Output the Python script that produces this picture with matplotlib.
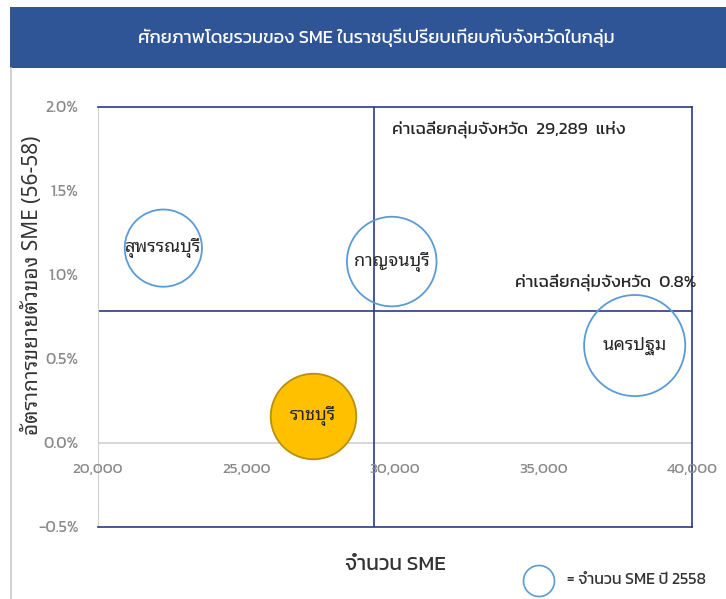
import matplotlib

matplotlib.use("Agg")
import matplotlib.pyplot as plt
from matplotlib import font_manager
from matplotlib.patches import Ellipse, Rectangle
from matplotlib.ticker import FuncFormatter

# SME potential: number of SMEs (2558) vs. growth rate 56-58, by province
provinces = ["สุพรรณบุรี", "กาญจนบุรี", "ราชบุรี", "นครปฐม"]
sme_count = [22200, 29890, 27250, 38070]
growth_pct = [1.16, 1.08, 0.16, 0.58]
highlight = "ราชบุรี"

avg_count = 29289
avg_growth = 0.785

x_ticks = [20000, 25000, 30000, 35000, 40000]
y_ticks = [-0.5, 0.0, 0.5, 1.0, 1.5, 2.0]

title = "ศักยภาพโดยรวมของ SME ในราชบุรีเปรียบเทียบกับจังหวัดในกลุ่ม"
xlabel = "จำนวน SME"
ylabel = "อัตราการขยายตัวของ SME (56-58)"
avg_count_label = "ค่าเฉลี่ยกลุ่มจังหวัด  29,289  แห่ง"
avg_growth_label = "ค่าเฉลี่ยกลุ่มจังหวัด  0.8%"
legend_label = "= จำนวน SME ปี 2558"


def pick(*names):
    have = {f.name for f in font_manager.fontManager.ttflist}
    for n in names:
        if n in have:
            return n
    return "DejaVu Sans"


loopless = [pick("Kanit", "Prompt", "Bai Jamjuree"), "DejaVu Sans"]
looped = [pick("Noto Sans Thai Looped", "Sarabun", "Noto Sans Thai", "Tahoma"), "DejaVu Sans"]

NAVY = "#2b3a86"
BANNER = "#2f5597"
BUBBLE = "#5b9bd5"
GREY = "#8a8a8a"
INK = "#262626"

fig = plt.figure(figsize=(7.26, 5.99), dpi=100)
W, H = 726, 599

# banner + card edge
fig.add_artist(Rectangle((10 / W, 1 - 68 / H), 1, 61 / H, transform=fig.transFigure,
                         facecolor=BANNER, edgecolor="none"))
fig.add_artist(plt.Line2D([11 / W, 11 / W], [0, 1 - 68 / H], transform=fig.transFigure,
                          color="#c8c8c8", lw=1.2))
fig.text(376 / W, 1 - 38 / H, title, color="white", fontsize=13.2,
         ha="center", va="center", family=loopless)

ax = fig.add_axes([98 / W, 1 - 527 / H, 594 / W, 420 / H])
ax.set_xlim(20000, 40000)
ax.set_ylim(-0.5, 2.0)

for sp in ["top", "right", "bottom"]:
    ax.spines[sp].set_color(NAVY)
    ax.spines[sp].set_linewidth(1.2)
ax.spines["left"].set_color("#d0d0d0")
ax.axhline(0, color="#d0d0d0", lw=1.2, zorder=0)

ax.axvline(avg_count, color=NAVY, lw=1.2, zorder=1)
ax.axhline(avg_growth, color=NAVY, lw=1.2, zorder=1)

# bubble area proportional to SME count
scale = 5300 / max(sme_count)
for name, cnt, g in zip(provinces, sme_count, growth_pct):
    if name == highlight:
        fc, ec = "#ffc000", "#b8900a"
    else:
        fc, ec = "none", BUBBLE
    ax.scatter(cnt, g, s=cnt * scale, facecolor=fc, edgecolor=ec, lw=1.3, zorder=3)
    ax.text(cnt, g, name, ha="center", va="center", fontsize=13,
            family=looped, color=INK, zorder=4)

ax.text(avg_count + 620, 1.86, avg_count_label, fontsize=12.5, family=loopless,
        color=INK, ha="left", va="center")
ax.text(40150, 0.95, avg_growth_label, fontsize=12.5, family=loopless,
        color=INK, ha="right", va="center")

ax.set_yticks(y_ticks)
ax.yaxis.set_major_formatter(FuncFormatter(lambda v, _: f"{v:.1f}%"))
ax.set_xticks([])
ax.tick_params(axis="y", length=0, pad=14, labelsize=11.5, labelcolor=GREY)
for t in ax.get_yticklabels():
    t.set_family(loopless)

# x tick labels sit on the zero line
for xv in x_ticks:
    ax.text(xv, -0.16, f"{xv:,}", ha="center", va="center", fontsize=11,
            color=GREY, family=loopless)

fig.text(32 / W, 1 - 285 / H, ylabel, rotation=90, ha="center", va="center",
         fontsize=15, family=looped, color="#333333")
fig.text(395 / W, 1 - 565 / H, xlabel, ha="center", va="center",
         fontsize=15, family=loopless, color="#333333")

# bubble legend
fig.add_artist(Ellipse((539 / W, 1 - 581 / H), 31 / W, 31 / H, transform=fig.transFigure,
                       facecolor="none", edgecolor=BUBBLE, lw=1.2))
fig.text(567 / W, 1 - 580 / H, legend_label, ha="left", va="center", fontsize=11.5,
         family=loopless, color="#333333")

fig.savefig("out.png", dpi=100)
